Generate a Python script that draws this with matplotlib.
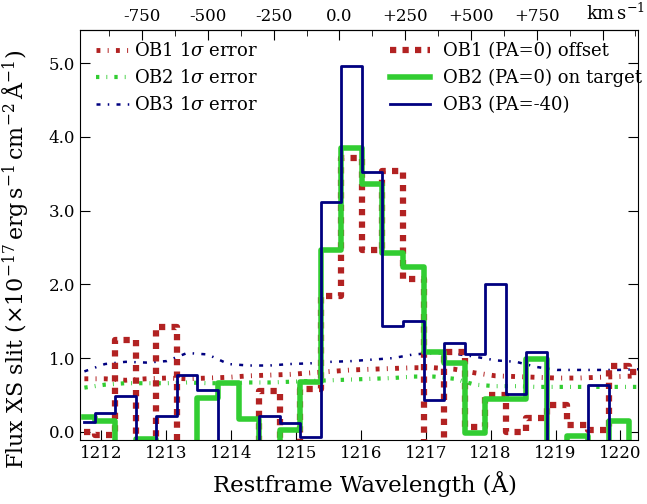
import matplotlib
matplotlib.use('Agg')
import matplotlib.pyplot as plt
from matplotlib.ticker import MultipleLocator, FixedLocator, FuncFormatter

plt.rcParams['font.family'] = ['DejaVu Serif']
plt.rcParams['mathtext.fontset'] = 'dejavuserif'

# restframe wavelength of each pixel (bin centres, Angstrom)
wave = [1211.738, 1212.055, 1212.372, 1212.689, 1213.006, 1213.322, 1213.639,
        1213.956, 1214.273, 1214.590, 1214.907, 1215.223, 1215.540, 1215.857,
        1216.174, 1216.491, 1216.807, 1217.124, 1217.441, 1217.758, 1218.075,
        1218.392, 1218.708, 1219.025, 1219.342, 1219.659, 1219.976, 1220.293]

# flux, 1e-17 erg/s/cm2/A
ob1 = [0.00, -0.04, 1.25, -0.20, 1.42, -0.20, -0.20, -0.20, -0.20, 0.55,
       -0.20, 0.58, 1.84, 3.72, 2.47, 3.54, 2.07, -0.20, 1.09, 0.07,
       0.50, 0.00, 0.19, 0.37, 0.10, 0.03, 0.90, 0.81]
ob2 = [0.20, 0.15, -0.30, -0.09, -0.30, -0.30, 0.46, 0.66, 0.17, -0.30,
       0.03, 0.67, 2.47, 3.85, 3.36, 2.43, 2.23, 1.09, 0.93, -0.02,
       0.44, 0.44, 0.99, -0.30, -0.06, -0.30, 0.15, -0.30]
ob3 = [0.13, 0.25, 0.49, -0.30, 0.21, 0.77, 0.57, -0.30, -0.30, 0.22,
       0.12, -0.07, 3.12, 4.96, 3.52, 1.43, 1.50, 0.43, 1.21, 1.06,
       2.00, 0.52, 1.09, -0.30, -0.30, 0.64, -0.30, -0.30]

# 1 sigma errors
err1 = [0.72, 0.72, 0.70, 0.72, 0.73, 0.72, 0.73, 0.74, 0.76, 0.77,
        0.78, 0.80, 0.82, 0.84, 0.85, 0.86, 0.87, 0.87, 0.85, 0.80,
        0.76, 0.75, 0.74, 0.73, 0.73, 0.74, 0.75, 0.76]
err2 = [0.60, 0.64, 0.66, 0.66, 0.66, 0.67, 0.66, 0.66, 0.67, 0.67,
        0.68, 0.69, 0.70, 0.71, 0.72, 0.73, 0.75, 0.75, 0.72, 0.64,
        0.62, 0.62, 0.61, 0.61, 0.61, 0.61, 0.61, 0.61]
err3 = [0.82, 0.92, 0.95, 0.94, 0.96, 1.07, 1.05, 0.92, 0.90, 0.90,
        0.92, 0.93, 0.95, 0.96, 0.98, 1.00, 1.05, 1.07, 1.06, 1.02,
        0.97, 0.95, 0.88, 0.84, 0.84, 0.84, 0.84, 0.85]

vel_ticks = [-750, -500, -250, 0, 250, 500, 750, 1000]

lya = 1215.67
c_kms = 299792.458

red = '#b22222'
green = '#32cd32'
navy = '#000080'

fig = plt.figure(figsize=(6.47, 5.04), dpi=100)
ax = fig.add_axes([0.1236, 0.127, 0.8624, 0.8135])

e1, = ax.plot(wave, err1, color=red, lw=3.5, dashes=(0.8, 1.5, 0.2, 1.5), label=r'OB1 1$\sigma$ error')
e2, = ax.plot(wave, err2, color=green, lw=3.0, dashes=(0.8, 1.7, 0.2, 1.7), label=r'OB2 1$\sigma$ error')
e3, = ax.plot(wave, err3, color=navy, lw=1.8, dashes=(1.6, 2.9, 0.6, 2.9), label=r'OB3 1$\sigma$ error')

d1, = ax.step(wave, ob1, where='mid', color=red, lw=4.5, dashes=(1, 1), label='OB1 (PA=0) offset')
d2, = ax.step(wave, ob2, where='mid', color=green, lw=4, label='OB2 (PA=0) on target')
d3, = ax.step(wave, ob3, where='mid', color=navy, lw=2, label='OB3 (PA=-40)')

ax.set_xlim(1211.67, 1220.27)
ax.set_ylim(-0.11, 5.45)
ax.xaxis.set_major_locator(MultipleLocator(1))
ax.yaxis.set_major_locator(MultipleLocator(1))
ax.yaxis.set_major_formatter(FuncFormatter(lambda v, p: '%.1f' % v))
ax.tick_params(direction='in', length=7, labelsize=12, top=False, right=True)

ax.set_xlabel('Restframe Wavelength (Å)', fontsize=16.5)
ax.set_ylabel(r'Flux XS slit ($\times10^{-17}\,\mathrm{erg\,s^{-1}\,cm^{-2}\,\AA^{-1}}$)', fontsize=16)
ax.xaxis.set_label_coords(0.51, -0.075)
ax.yaxis.set_label_coords(-0.087, 0.44)

# velocity axis relative to Lya
secax = ax.secondary_xaxis('top', functions=(lambda l: (l / lya - 1) * c_kms,
                                             lambda v: lya * (1 + v / c_kms)))
secax.xaxis.set_major_locator(FixedLocator(vel_ticks))
secax.xaxis.set_minor_locator(MultipleLocator(125))

def vfmt(v, pos):
    if v == 0:
        return '0.0'
    if v >= 1000:
        return ''
    return '%+d' % v

secax.xaxis.set_major_formatter(FuncFormatter(vfmt))
secax.tick_params(which='major', direction='in', length=7, labelsize=12)
secax.tick_params(which='minor', direction='in', length=4)
ax.text(1.0125, 1.015, r'$\mathrm{km\,s^{-1}}$', transform=ax.transAxes,
        ha='right', va='bottom', fontsize=13)

leg1 = ax.legend(handles=[e1, e2, e3], loc='upper left', frameon=False,
                 fontsize=13, handlelength=1.8, handletextpad=0.3,
                 bbox_to_anchor=(0.0, 1.01))
ax.add_artist(leg1)
ax.legend(handles=[d1, d2, d3], loc='upper right', frameon=False, fontsize=13,
          handlelength=2.2, handletextpad=0.72, bbox_to_anchor=(1.036, 1.01))

fig.savefig('out.png', dpi=100)
